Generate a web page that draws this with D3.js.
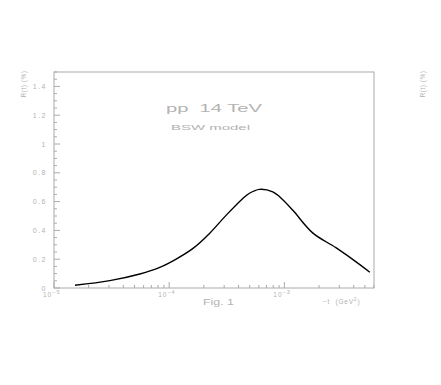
<!DOCTYPE html>
<html>
<head>
<style>
body { margin: 0; background: #fff; }
svg { font-family: "Liberation Sans", sans-serif; }
</style>
<script src="https://d3js.org/d3.v7.min.js"></script>
</head>
<body>
<svg id="chart" width="441" height="385"></svg>
<script>

var width = 441, height = 385;
var margin = {left: 54, top: 72, right: 67, bottom: 97};

// -t in GeV^2
var tValues = [1.52e-5, 3.05e-5, 5.56e-5, 8.28e-5, 1.15e-4, 1.61e-4, 2.24e-4, 3.13e-4,
               4.36e-4, 4.97e-4, 6.08e-4, 7.93e-4, 9.05e-4, 1.18e-3, 1.76e-3, 2.80e-3,
               4.46e-3, 5.52e-3];
// R(t) in %
var rValues = [0.019, 0.051, 0.097, 0.143, 0.201, 0.275, 0.379, 0.506,
               0.622, 0.658, 0.685, 0.668, 0.635, 0.541, 0.383, 0.280,
               0.166, 0.109];

var yTicks = [0, 0.2, 0.4, 0.6, 0.8, 1, 1.2, 1.4];
var xDecades = [-5, -4, -3];

var textColor = "#b2b2b2";
var axisColor = "#aaa";

var svg = d3.select("#chart");

var x = d3.scaleLog()
    .domain([1e-5, 6e-3])
    .range([margin.left, width - margin.right]);

var y = d3.scaleLinear()
    .domain([0, 1.5])
    .range([height - margin.bottom, margin.top]);

// frame
svg.append("rect")
    .attr("x", x.range()[0])
    .attr("y", y.range()[1])
    .attr("width", x.range()[1] - x.range()[0])
    .attr("height", y.range()[0] - y.range()[1])
    .style("fill", "none")
    .style("stroke", axisColor)
    .style("stroke-width", 1);

// y ticks, major every 0.2 with minor every 0.05
var yMinor = d3.range(0, 1.5001, 0.05);
svg.append("g").selectAll("line")
    .data(yMinor)
    .enter().append("line")
    .attr("x1", x.range()[0])
    .attr("x2", function(d) {
        var major = Math.abs(d / 0.2 - Math.round(d / 0.2)) < 1e-6;
        return x.range()[0] + (major ? 6 : 3);
    })
    .attr("y1", function(d) { return y(d); })
    .attr("y2", function(d) { return y(d); })
    .style("stroke", axisColor);

svg.append("g").selectAll("text")
    .data(yTicks)
    .enter().append("text")
    .attr("x", x.range()[0] - 7)
    .attr("y", function(d) { return y(d) + 2.5; })
    .attr("text-anchor", "end")
    .style("font-size", "7px")
    .style("letter-spacing", "1.5px")
    .style("fill", textColor)
    .text(function(d) { return d; });

// x ticks, decades plus 2..9
var xMinor = [];
xDecades.forEach(function(e) {
    for (var k = 1; k <= 9; k++) {
        var v = k * Math.pow(10, e);
        if (v <= x.domain()[1]) xMinor.push({v: v, major: k === 1});
    }
});
svg.append("g").selectAll("line")
    .data(xMinor)
    .enter().append("line")
    .attr("x1", function(d) { return x(d.v); })
    .attr("x2", function(d) { return x(d.v); })
    .attr("y1", y.range()[0])
    .attr("y2", function(d) { return y.range()[0] - (d.major ? 6 : 3); })
    .style("stroke", axisColor);

var xLab = svg.append("g").selectAll("text")
    .data(xDecades)
    .enter().append("text")
    .attr("x", function(d) { return x(Math.pow(10, d)) - 11; })
    .attr("y", y.range()[0] + 8.5)
    .style("font-size", "6.5px")
    .style("letter-spacing", "1px")
    .style("fill", textColor);
xLab.append("tspan").text("10");
xLab.append("tspan")
    .attr("dy", -3)
    .style("font-size", "5.5px")
    .text(function(d) { return "\u2212" + Math.abs(d); });

// curve
var line = d3.line()
    .x(function(d, i) { return x(tValues[i]); })
    .y(function(d) { return y(d); })
    .curve(d3.curveCatmullRom.alpha(0.5));

svg.append("path")
    .datum(rValues)
    .attr("d", line)
    .style("fill", "none")
    .style("stroke", "#000")
    .style("stroke-width", 1.4);

// labels, stretched wide like the original plotting font
function wideText(tx, ty, len, size, str) {
    return svg.append("text")
        .attr("x", tx).attr("y", ty)
        .attr("textLength", len)
        .attr("lengthAdjust", "spacingAndGlyphs")
        .style("white-space", "pre")
        .style("font-size", size + "px")
        .style("fill", textColor)
        .text(str);
}

wideText(166, 112, 96, 10.5, "pp  14 TeV");
wideText(171, 130, 79, 8, "BSW model");
wideText(203, 304.5, 31, 9.5, "Fig. 1");

var tl = svg.append("text")
    .attr("x", 323).attr("y", 304)
    .style("white-space", "pre")
    .style("font-size", "6.5px")
    .style("letter-spacing", "0.8px")
    .style("fill", textColor);
tl.append("tspan").text("\u2212t  (GeV");
tl.append("tspan").attr("dy", -3).style("font-size", "5px").text("2");
tl.append("tspan").attr("dy", 3).text(")");

[24, 423].forEach(function(px) {
    svg.append("text")
        .attr("transform", "translate(" + (px + 2) + ",84) rotate(-90)")
        .attr("text-anchor", "middle")
        .style("font-size", "6.5px")
        .style("letter-spacing", "0.5px")
        .style("fill", textColor)
        .text("R(t) (%)");
});

</script>
</body>
</html>
